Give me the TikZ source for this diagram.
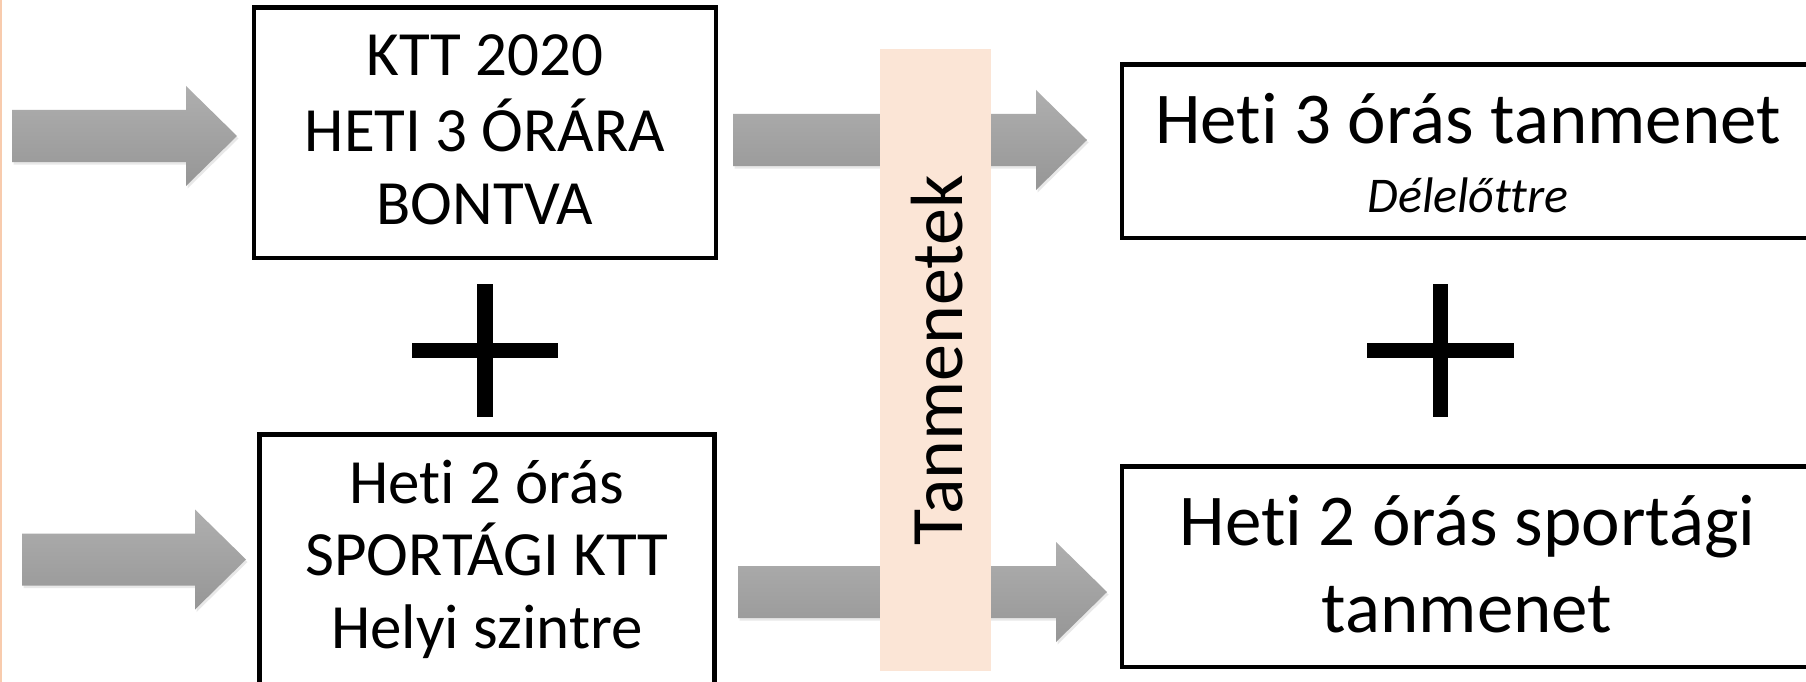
\documentclass[tikz,border=0pt]{standalone}
\usepackage{fontspec}
\setmainfont{Carlito}[Ligatures={NoCommon,NoRare,NoContextual}]
\usetikzlibrary{calc,shadows}
\definecolor{bandcol}{HTML}{FBE5D6}
\definecolor{edgecol}{HTML}{F8CBAD}
\definecolor{arrtop}{HTML}{AFAFAF}
\definecolor{arrbot}{HTML}{969696}
\newcommand\blockarr[2]{%
  \path[blockarrow] ($(#1)+(0,-26)$) -- ($(#2)+(-51,-26)$) -- ($(#2)+(-51,-50)$) -- (#2)
    -- ($(#2)+(-51,50)$) -- ($(#2)+(-51,26)$) -- ($(#1)+(0,26)$) -- cycle;}
\begin{document}
\begin{tikzpicture}[x=1pt,y=-1pt,
  box/.style={draw=black, line width=4.5pt, fill=white, rectangle, inner sep=0pt, outer sep=0pt},
  bigtxt/.style={font=\fontsize{63}{75}\selectfont, anchor=base, inner sep=0pt},
  rtxt/.style={font=\fontsize{73}{87}\selectfont, anchor=base, inner sep=0pt},
  smalltxt/.style={font=\fontsize{50}{60}\selectfont\itshape, anchor=base, inner sep=0pt},
  bandtxt/.style={font=\fontsize{74}{88}\selectfont, anchor=base, inner sep=0pt, rotate=90},
  blockarrow/.style={top color=arrtop, bottom color=arrbot, draw=none,
    drop shadow={shadow xshift=1.5pt, shadow yshift=-2.5pt, opacity=0.18}},
  band/.style={fill=bandcol, draw=none, rectangle, inner sep=0pt, minimum width=111pt, minimum height=622pt},
  plusbar/.style={fill=black}
]
\useasboundingbox (0,0) rectangle (1806,682);
\clip (0,0) rectangle (1806,682);
\fill[white] (0,0) rectangle (1806,682);
\draw[edgecol, line width=1.5pt] (0.75,0) -- (0.75,682);

% boxes
\node[box, minimum width=462pt, minimum height=250.5pt] (b1) at (485,132.75) {};
\node[box, minimum width=455pt, minimum height=265.5pt] (b2) at (487,567.25) {};
\node[box, minimum width=693pt, minimum height=173.5pt] (b3) at (1468.5,151.25) {};
\node[box, minimum width=693pt, minimum height=200.5pt] (b4) at (1468.5,566.75) {};

% arrows
\coordinate (a1s) at (12,136);   \coordinate (a1e) at (237,136);
\coordinate (a2s) at (22,559.5); \coordinate (a2e) at (246,559.5);
\coordinate (a3s) at (733,140);  \coordinate (a3e) at (1087,140);
\coordinate (a4s) at (738,592);  \coordinate (a4e) at (1107,592);
\blockarr{a1s}{a1e}
\blockarr{a2s}{a2e}
\blockarr{a3s}{a3e}
\blockarr{a4s}{a4e}

% band
\node[band] (band) at (935.5,360) {};
\node[bandtxt] (bandlabel) at (962,360) {Tanmenetek};

% texts box 1
\node[bigtxt] (t11) at (485,76) {KTT 2020};
\node[bigtxt] (t12) at (485,151) {HETI 3 ÓRÁRA};
\node[bigtxt] (t13) at (485,224) {BONTVA};
% texts box 2
\node[bigtxt] (t21) at (487,503) {Heti 2 órás};
\node[bigtxt] (t22) at (487,575) {SPORTÁGI KTT};
\node[bigtxt] (t23) at (487,648) {Helyi szintre};
% texts box 3
\node[rtxt] (t31) at (1468,143) {Heti 3 órás tanmenet};
\node[smalltxt] (t32) at (1468,212) {Délelőttre};
% texts box 4
\node[rtxt] (t41) at (1467.5,545) {Heti 2 órás sportági};
\node[rtxt] (t42) at (1467,632) {tanmenet};

% plus signs
\fill[plusbar] (412,343) rectangle (558,358);
\fill[plusbar] (477,284) rectangle (493,417);
\fill[plusbar] (1367,343) rectangle (1514,358);
\fill[plusbar] (1433,284) rectangle (1448,417);
\end{tikzpicture}
\end{document}
